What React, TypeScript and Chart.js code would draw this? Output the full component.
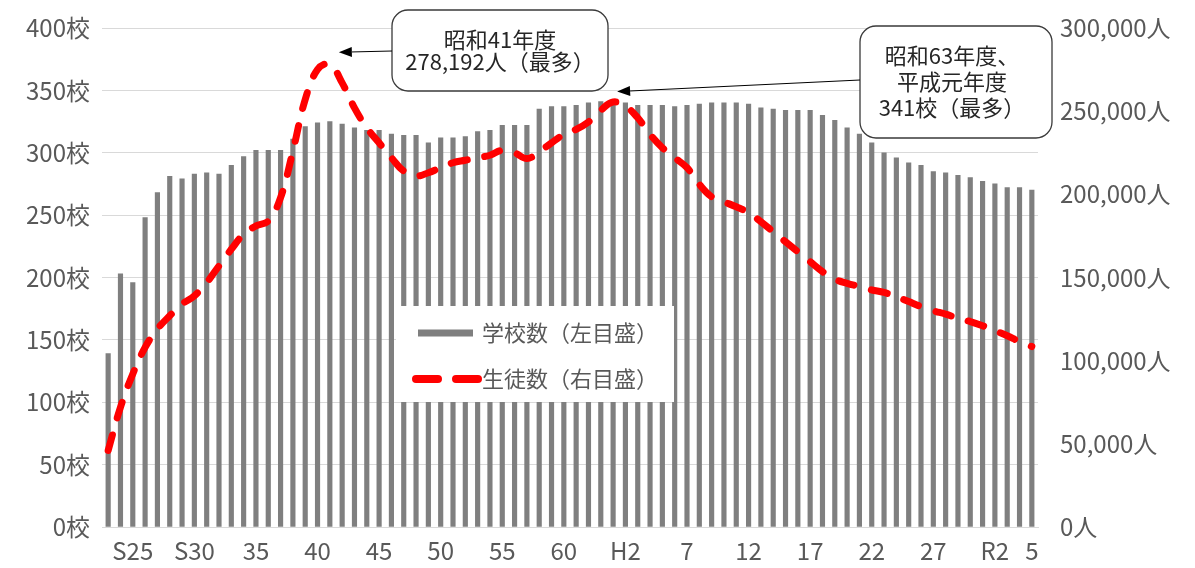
import React, { useEffect, useRef } from "react";
import { Chart, registerables } from "chart.js";

Chart.register(...registerables);

// Fiscal years S23 (1948) .. R5 (2023)
const categories: string[] = [
  "S23", "S24", "S25", "S26", "S27", "S28", "S29", "S30", "S31", "S32",
  "S33", "S34", "S35", "S36", "S37", "S38", "S39", "S40", "S41", "S42",
  "S43", "S44", "S45", "S46", "S47", "S48", "S49", "S50", "S51", "S52",
  "S53", "S54", "S55", "S56", "S57", "S58", "S59", "S60", "S61", "S62",
  "S63", "H1", "H2", "H3", "H4", "H5", "H6", "H7", "H8", "H9",
  "H10", "H11", "H12", "H13", "H14", "H15", "H16", "H17", "H18", "H19",
  "H20", "H21", "H22", "H23", "H24", "H25", "H26", "H27", "H28", "H29",
  "H30", "R1", "R2", "R3", "R4", "R5",
];

// Shown x tick labels
const xTickLabels: Record<string, string> = {
  S25: "S25", S30: "S30", S35: "35", S40: "40", S45: "45", S50: "50",
  S55: "55", S60: "60", H2: "H2", H7: "7", H12: "12", H17: "17",
  H22: "22", H27: "27", R2: "R2", R5: "5",
};

// 学校数 (left axis)
const schools: number[] = [
  139, 203, 196, 248, 268, 281, 279, 283, 284, 283,
  290, 297, 302, 302, 302, 311, 321, 324, 325, 323,
  320, 318, 318, 315, 314, 314, 308, 312, 312, 313,
  317, 318, 322, 322, 322, 335, 337, 337, 338, 340,
  341, 341, 340, 338, 338, 338, 337, 338, 339, 340,
  340, 340, 339, 336, 335, 334, 334, 334, 330, 326,
  320, 315, 308, 300, 296, 292, 290, 285, 284, 282,
  280, 277, 275, 272, 272, 270,
];

// 生徒数 (right axis)
const students: number[] = [
  46000, 72000, 92000, 108000, 119000, 127000, 134000, 139000, 147000, 157000,
  167000, 176000, 181000, 184000, 198000, 226000, 257000, 275000, 278192, 267000,
  252000, 240000, 231000, 222000, 214000, 211000, 213000, 216000, 219000, 220500,
  222000, 223500, 226500, 225000, 221500, 225500, 231000, 236000, 239000, 243500,
  250500, 255500, 253000, 246000, 236000, 228000, 222000, 216000, 206000, 198500,
  195500, 192500, 189000, 183500, 177500, 171500, 165500, 159500, 153500, 149000,
  146500, 144500, 142500, 141000, 138500, 135500, 132500, 130000, 128000, 125500,
  123500, 121000, 118000, 115000, 111500, 108500,
];

const leftTicks = { min: 0, max: 400, step: 50, unit: "校" };
const rightTicks = { min: 0, max: 300000, step: 50000, unit: "人" };

const legendLabels = ["学校数（左目盛）", "生徒数（右目盛）"];
const note1Lines = ["昭和41年度", "278,192人（最多）"];
const note1Index = 18;
const note2Lines = ["昭和63年度、", "平成元年度", "341校（最多）"];
const note2Index = 41;

const FONT = '"Noto Sans CJK JP", "Noto Sans", sans-serif';
const TEXT = "#595959";
const BAR = "#7f7f7f";
const RED = "#ff0000";

function arrow(ctx: CanvasRenderingContext2D, x1: number, y1: number, x2: number, y2: number) {
  ctx.save();
  ctx.strokeStyle = "#000";
  ctx.fillStyle = "#000";
  ctx.lineWidth = 1;
  const ang = Math.atan2(y2 - y1, x2 - x1);
  const hl = 13, hw = 5;
  const bx = x2 - hl * Math.cos(ang), by = y2 - hl * Math.sin(ang);
  ctx.beginPath();
  ctx.moveTo(x1, y1);
  ctx.lineTo(bx, by);
  ctx.stroke();
  ctx.beginPath();
  ctx.moveTo(x2, y2);
  ctx.lineTo(bx + hw * Math.sin(ang), by - hw * Math.cos(ang));
  ctx.lineTo(bx - hw * Math.sin(ang), by + hw * Math.cos(ang));
  ctx.closePath();
  ctx.fill();
  ctx.restore();
}

function noteBox(ctx: CanvasRenderingContext2D, x: number, y: number, w: number, h: number, lines: string[], lineH: number, cx: number) {
  ctx.save();
  ctx.beginPath();
  (ctx as any).roundRect(x, y, w, h, 16);
  ctx.fillStyle = "#fff";
  ctx.fill();
  ctx.strokeStyle = "#3a3a3a";
  ctx.lineWidth = 1.3;
  ctx.stroke();
  ctx.fillStyle = "#262626";
  ctx.font = `22px ${FONT}`;
  ctx.textAlign = "center";
  ctx.textBaseline = "middle";
  const cy = y + h / 2;
  lines.forEach((t, i) => {
    ctx.fillText(t, cx, cy + (i - (lines.length - 1) / 2) * lineH);
  });
  ctx.restore();
}

const overlayPlugin = {
  id: "overlay",
  afterDatasetsDraw(chart: any) {
    const ctx: CanvasRenderingContext2D = chart.ctx;
    // legend
    ctx.save();
    ctx.fillStyle = "#fff";
    ctx.fillRect(396, 306, 278, 96);
    ctx.strokeStyle = BAR;
    ctx.lineWidth = 7;
    ctx.beginPath();
    ctx.moveTo(418, 333);
    ctx.lineTo(473, 333);
    ctx.stroke();
    ctx.strokeStyle = RED;
    ctx.lineWidth = 8;
    ctx.lineCap = "round";
    ctx.setLineDash([22, 18]);
    ctx.beginPath();
    ctx.moveTo(416, 379);
    ctx.lineTo(480, 379);
    ctx.stroke();
    ctx.setLineDash([]);
    ctx.fillStyle = TEXT;
    ctx.font = `22px ${FONT}`;
    ctx.textBaseline = "middle";
    ctx.textAlign = "left";
    ctx.fillText(legendLabels[0], 482, 333);
    ctx.fillText(legendLabels[1], 482, 379);
    ctx.restore();
  },
  afterDraw(chart: any) {
    const ctx: CanvasRenderingContext2D = chart.ctx;
    const lineMeta = chart.getDatasetMeta(0);
    const barMeta = chart.getDatasetMeta(1);
    const p1 = lineMeta.data[note1Index];
    const p2 = barMeta.data[note2Index];
    noteBox(ctx, 392, 10, 216, 81, note1Lines, 22, 500);
    arrow(ctx, 392, 51, p1.x + 9, p1.y - 12);
    noteBox(ctx, 860, 26, 192, 112, note2Lines, 26, 952);
    arrow(ctx, 860, 80, p2.x + 4, p2.y - 10);
  },
};

export default function App() {
  const ref = useRef<HTMLCanvasElement>(null);
  useEffect(() => {
    document.body.style.margin = "0";
    const canvas = ref.current!;
    const chart = new Chart(canvas, {
      type: "bar",
      data: {
        labels: categories,
        datasets: [
          {
            type: "line",
            label: legendLabels[1],
            data: students,
            yAxisID: "y1",
            borderColor: RED,
            borderWidth: 7,
            borderDash: [16, 18],
            borderCapStyle: "round",
            borderJoinStyle: "round",
            pointRadius: 0,
            tension: 0.4,
            fill: false,
            order: 0,
          } as any,
          {
            type: "bar",
            label: legendLabels[0],
            data: schools,
            yAxisID: "y",
            backgroundColor: BAR,
            barThickness: 4.5,
            order: 1,
          },
        ],
      },
      options: {
        responsive: false,
        animation: false,
        devicePixelRatio: 1,
        layout: { padding: { top: 28, left: 0, right: 0, bottom: 0 } },
        plugins: { legend: { display: false }, tooltip: { enabled: false } },
        scales: {
          x: {
            offset: true,
            grid: { display: false, drawTicks: false },
            border: { display: true, color: "#d9d9d9", width: 1 },
            ticks: {
              autoSkip: false,
              maxRotation: 0,
              padding: 9,
              color: TEXT,
              font: { family: FONT, size: 24 },
              callback: (_v: any, i: number) => xTickLabels[categories[i]] ?? "",
            },
            afterFit: (s: any) => { s.height = 41; s.paddingLeft = 0; s.paddingRight = 0; },
          },
          y: {
            position: "left",
            min: leftTicks.min,
            max: leftTicks.max,
            grid: { color: "#d9d9d9", drawTicks: false },
            border: { display: false },
            ticks: {
              stepSize: leftTicks.step,
              padding: 12,
              color: TEXT,
              font: { family: FONT, size: 24 },
              callback: (v: any) => `${v}${leftTicks.unit}`,
            },
            afterFit: (s: any) => { s.width = 102; s.paddingTop = 0; s.paddingBottom = 0; },
          },
          y1: {
            position: "right",
            min: rightTicks.min,
            max: rightTicks.max,
            grid: { display: false, drawTicks: false },
            border: { display: false },
            ticks: {
              stepSize: rightTicks.step,
              padding: 22,
              color: TEXT,
              font: { family: FONT, size: 24 },
              callback: (v: any) => `${Number(v).toLocaleString("en-US")}${rightTicks.unit}`,
            },
            afterFit: (s: any) => { s.width = 157; s.paddingTop = 0; s.paddingBottom = 0; },
          },
        },
      },
      plugins: [overlayPlugin],
    });
    return () => chart.destroy();
  }, []);
  return (
    <div style={{ width: 1195, height: 568 }}>
      <canvas ref={ref} width={1195} height={568} />
    </div>
  );
}
